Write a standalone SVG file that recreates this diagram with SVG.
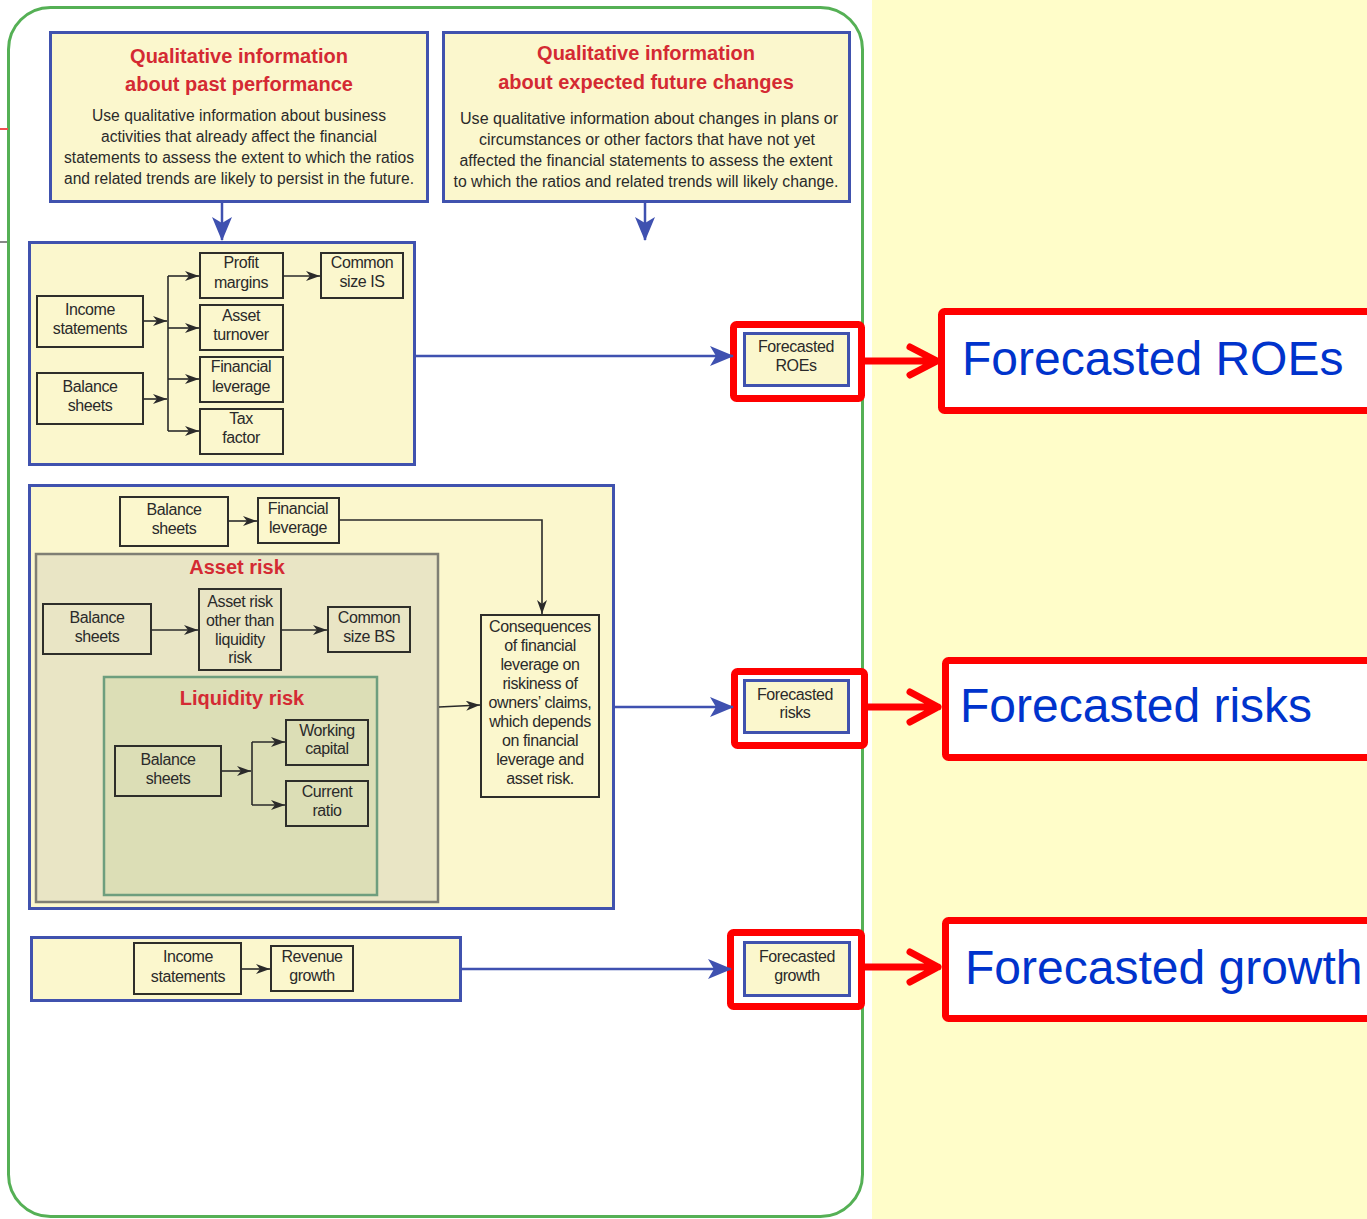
<svg xmlns="http://www.w3.org/2000/svg" width="1367" height="1219" viewBox="0 0 1367 1219">
<style>
  .cont{fill:#FBF7CD;stroke:#4052AE;stroke-width:3}
  .box{fill:none;stroke:#2E2E2A;stroke-width:2}
  .t{font-family:"Liberation Sans",Arial,sans-serif;font-size:16px;fill:#2A2A2A;text-anchor:middle;letter-spacing:-0.4px}
  .body{font-family:"Liberation Sans",Arial,sans-serif;font-size:16px;fill:#2A2A2A;text-anchor:middle}
  .title{font-family:"Liberation Sans",Arial,sans-serif;font-size:20px;font-weight:bold;fill:#D42A33;text-anchor:middle}
  .big{font-family:"Liberation Sans",Arial,sans-serif;font-size:48px;fill:#0033CC}
  .blk{fill:none;stroke:#2A2A2A;stroke-width:1.6}
  .blue{fill:none;stroke:#3F51B0;stroke-width:2.5}
  .redbox{fill:none;stroke:#FF0000;stroke-width:7}
  .bigbox{fill:#FFFFFF;stroke:#FF0000;stroke-width:7}
  .redarr{fill:none;stroke:#FF0000;stroke-width:7;stroke-linecap:round;stroke-linejoin:round}
  .fbox{fill:#FBF7CD;stroke:#4052AE;stroke-width:3}
</style>
<defs>
  <marker id="ab" viewBox="0 0 24 20" refX="23" refY="10" markerWidth="24" markerHeight="20" markerUnits="userSpaceOnUse" orient="auto">
    <path d="M0,0 L24,10 L0,20 L6,10 z" fill="#3F51B0"/>
  </marker>
  <marker id="ak" viewBox="0 0 14 10" refX="14" refY="5" markerWidth="14" markerHeight="10" markerUnits="userSpaceOnUse" orient="auto">
    <path d="M0,0 L14,5 L0,10 L4,5 z" fill="#2A2A2A"/>
  </marker>
</defs>

<!-- backgrounds -->
<rect x="0" y="0" width="1367" height="1219" fill="#FFFFFF"/>
<rect x="872" y="0" width="495" height="1219" fill="#FFFDC9"/>
<rect x="8.5" y="7.5" width="854" height="1209" rx="42" ry="42" fill="none" stroke="#55B055" stroke-width="3"/>
<line x1="0" y1="129" x2="8" y2="129" stroke="#F05050" stroke-width="2"/>
<line x1="0" y1="242" x2="7" y2="242" stroke="#888888" stroke-width="2"/>

<!-- top left info box -->
<g id="past-info">
  <rect class="cont" x="50.5" y="32.5" width="377" height="169"/>
  <text class="title" x="239" y="63">Qualitative information</text>
  <text class="title" x="239" y="91">about past performance</text>
  <text class="body" x="239" y="121" textLength="294" lengthAdjust="spacingAndGlyphs">Use qualitative information about business</text>
  <text class="body" x="239" y="142" textLength="276" lengthAdjust="spacingAndGlyphs">activities that already affect the financial</text>
  <text class="body" x="239" y="163" textLength="350" lengthAdjust="spacingAndGlyphs">statements to assess the extent to which the ratios</text>
  <text class="body" x="239" y="184" textLength="350" lengthAdjust="spacingAndGlyphs">and related trends are likely to persist in the future.</text>
</g>

<!-- top right info box -->
<g id="future-info">
  <rect class="cont" x="443.5" y="32.5" width="406" height="169"/>
  <text class="title" x="646" y="60">Qualitative information</text>
  <text class="title" x="646" y="89">about expected future changes</text>
  <text class="body" x="649" y="124" textLength="378" lengthAdjust="spacingAndGlyphs">Use qualitative information about changes in plans or</text>
  <text class="body" x="647" y="145" textLength="336" lengthAdjust="spacingAndGlyphs">circumstances or other factors that have not yet</text>
  <text class="body" x="646" y="166" textLength="373" lengthAdjust="spacingAndGlyphs">affected the financial statements to assess the extent</text>
  <text class="body" x="646" y="187" textLength="385" lengthAdjust="spacingAndGlyphs">to which the ratios and related trends will likely change.</text>
</g>

<!-- ROE section -->
<g id="roe-section">
  <rect class="cont" x="29.5" y="242.5" width="385" height="222"/>
  <g id="roe-income"><rect class="box" x="37" y="296" width="106" height="51"/><text class="t" x="90" y="315">Income</text><text class="t" x="90" y="334">statements</text></g>
  <g id="roe-balance"><rect class="box" x="37" y="373" width="106" height="51"/><text class="t" x="90" y="392">Balance</text><text class="t" x="90" y="411">sheets</text></g>
  <g id="profit-margins"><rect class="box" x="200" y="253" width="83" height="45"/><text class="t" x="241" y="268">Profit</text><text class="t" x="241" y="288">margins</text></g>
  <g id="asset-turnover"><rect class="box" x="200" y="305" width="83" height="45"/><text class="t" x="241" y="321">Asset</text><text class="t" x="241" y="340">turnover</text></g>
  <g id="roe-finlev"><rect class="box" x="200" y="357" width="83" height="45"/><text class="t" x="241" y="372">Financial</text><text class="t" x="241" y="392">leverage</text></g>
  <g id="tax-factor"><rect class="box" x="200" y="409" width="83" height="45"/><text class="t" x="241" y="424">Tax</text><text class="t" x="241" y="443">factor</text></g>
  <g id="common-size-is"><rect class="box" x="321" y="253" width="82" height="45"/><text class="t" x="362" y="268">Common</text><text class="t" x="362" y="287">size IS</text></g>
</g>

<!-- Risk section -->
<g id="risk-section">
  <rect class="cont" x="29.5" y="485.5" width="584" height="423"/>
  <g id="risk-balance"><rect class="box" x="120" y="497" width="108" height="49"/><text class="t" x="174" y="515">Balance</text><text class="t" x="174" y="534">sheets</text></g>
  <g id="risk-finlev"><rect class="box" x="258" y="498" width="81" height="45"/><text class="t" x="298" y="514">Financial</text><text class="t" x="298" y="533">leverage</text></g>
  <g id="asset-risk">
    <rect x="36" y="554" width="402" height="348" fill="#E9E5C5" stroke="#7F7F74" stroke-width="2.5"/>
    <text class="title" x="237" y="574">Asset risk</text>
    <g id="ar-balance"><rect class="box" x="43" y="604" width="108" height="50"/><text class="t" x="97" y="623">Balance</text><text class="t" x="97" y="642">sheets</text></g>
    <g id="ar-other"><rect class="box" x="199" y="589" width="82" height="81"/><text class="t" x="240" y="607">Asset risk</text><text class="t" x="240" y="626">other than</text><text class="t" x="240" y="645">liquidity</text><text class="t" x="240" y="663">risk</text></g>
    <g id="common-size-bs"><rect class="box" x="328" y="607" width="82" height="45"/><text class="t" x="369" y="623">Common</text><text class="t" x="369" y="642">size BS</text></g>
  </g>
  <g id="liquidity-risk">
    <rect x="104" y="677" width="273" height="218" fill="#DCDEB6" stroke="#6E9E7E" stroke-width="2.5"/>
    <text class="title" x="242" y="705">Liquidity risk</text>
    <g id="lr-balance"><rect class="box" x="115" y="746" width="106" height="50"/><text class="t" x="168" y="765">Balance</text><text class="t" x="168" y="784">sheets</text></g>
    <g id="working-capital"><rect class="box" x="286" y="720" width="82" height="45"/><text class="t" x="327" y="736">Working</text><text class="t" x="327" y="754">capital</text></g>
    <g id="current-ratio"><rect class="box" x="286" y="781" width="82" height="45"/><text class="t" x="327" y="797">Current</text><text class="t" x="327" y="816">ratio</text></g>
  </g>
  <g id="consequences"><rect class="box" x="481" y="615" width="118" height="182"/>
    <text class="t" x="540" y="632">Consequences</text>
    <text class="t" x="540" y="651">of financial</text>
    <text class="t" x="540" y="670">leverage on</text>
    <text class="t" x="540" y="689">riskiness  of</text>
    <text class="t" x="540" y="708">owners’ claims,</text>
    <text class="t" x="540" y="727">which depends</text>
    <text class="t" x="540" y="746">on financial</text>
    <text class="t" x="540" y="765">leverage and</text>
    <text class="t" x="540" y="784">asset risk.</text>
  </g>
</g>

<!-- Growth section -->
<g id="growth-section">
  <rect class="cont" x="31.5" y="937.5" width="429" height="63"/>
  <g id="g-income"><rect class="box" x="134" y="943" width="107" height="51"/><text class="t" x="188" y="962">Income</text><text class="t" x="188" y="982">statements</text></g>
  <g id="revenue-growth"><rect class="box" x="271" y="946" width="82" height="45"/><text class="t" x="312" y="962">Revenue</text><text class="t" x="312" y="981">growth</text></g>
</g>

<!-- Forecast boxes -->
<g id="forecast-roe">
  <rect class="redbox" x="733.5" y="324.5" width="128" height="74" rx="3"/>
  <rect class="fbox" x="744.5" y="333.5" width="104" height="52"/>
  <text class="t" x="796" y="352">Forecasted</text><text class="t" x="796" y="371">ROEs</text>
</g>
<g id="forecast-risks">
  <rect class="redbox" x="734.5" y="671.5" width="130" height="74" rx="3"/>
  <rect class="fbox" x="744.5" y="680.5" width="104" height="52"/>
  <text class="t" x="795" y="700">Forecasted</text><text class="t" x="795" y="718">risks</text>
</g>
<g id="forecast-growth">
  <rect class="redbox" x="730.5" y="932.5" width="131" height="74" rx="3"/>
  <rect class="fbox" x="744.5" y="942.5" width="105" height="53"/>
  <text class="t" x="797" y="962">Forecasted</text><text class="t" x="797" y="981">growth</text>
</g>

<!-- Big labels -->
<g id="label-roe">
  <rect class="bigbox" x="941.5" y="311.5" width="480" height="99" rx="3"/>
  <text class="big" x="962" y="375">Forecasted ROEs</text>
</g>
<g id="label-risks">
  <rect class="bigbox" x="945.5" y="660.5" width="480" height="97" rx="3"/>
  <text class="big" x="960" y="722">Forecasted risks</text>
</g>
<g id="label-growth">
  <rect class="bigbox" x="945.5" y="920.5" width="480" height="98" rx="3"/>
  <text class="big" x="965" y="984">Forecasted growth</text>
</g>

<!-- connectors -->
<g id="connectors">
  <!-- blue -->
  <line class="blue" x1="222" y1="202" x2="222" y2="240" marker-end="url(#ab)"/>
  <line class="blue" x1="645" y1="202" x2="645" y2="240" marker-end="url(#ab)"/>
  <line class="blue" x1="415" y1="356" x2="733" y2="356" marker-end="url(#ab)"/>
  <line class="blue" x1="614" y1="707" x2="733" y2="707" marker-end="url(#ab)"/>
  <line class="blue" x1="461" y1="969" x2="731" y2="969" marker-end="url(#ab)"/>
  <!-- ROE black -->
  <line class="blk" x1="143" y1="321" x2="167" y2="321" marker-end="url(#ak)"/>
  <line class="blk" x1="143" y1="399" x2="167" y2="399" marker-end="url(#ak)"/>
  <line class="blk" x1="168" y1="276" x2="168" y2="431"/>
  <line class="blk" x1="168" y1="276" x2="199" y2="276" marker-end="url(#ak)"/>
  <line class="blk" x1="168" y1="328" x2="199" y2="328" marker-end="url(#ak)"/>
  <line class="blk" x1="168" y1="379" x2="199" y2="379" marker-end="url(#ak)"/>
  <line class="blk" x1="168" y1="431" x2="199" y2="431" marker-end="url(#ak)"/>
  <line class="blk" x1="283" y1="276" x2="320" y2="276" marker-end="url(#ak)"/>
  <!-- risk black -->
  <line class="blk" x1="228" y1="521" x2="257" y2="521" marker-end="url(#ak)"/>
  <polyline class="blk" points="339,520 542,520 542,614" marker-end="url(#ak)"/>
  <line class="blk" x1="151" y1="630" x2="198" y2="630" marker-end="url(#ak)"/>
  <line class="blk" x1="281" y1="630" x2="327" y2="630" marker-end="url(#ak)"/>
  <line class="blk" x1="439" y1="707" x2="480" y2="705" marker-end="url(#ak)"/>
  <line class="blk" x1="221" y1="771" x2="251" y2="771" marker-end="url(#ak)"/>
  <line class="blk" x1="252" y1="742" x2="252" y2="805"/>
  <line class="blk" x1="252" y1="742" x2="285" y2="742" marker-end="url(#ak)"/>
  <line class="blk" x1="252" y1="805" x2="285" y2="805" marker-end="url(#ak)"/>
  <!-- growth black -->
  <line class="blk" x1="241" y1="969" x2="270" y2="969" marker-end="url(#ak)"/>
  <!-- red arrows -->
  <path class="redarr" d="M865,361 L936,361 M910,347 L937,361 L910,375"/>
  <path class="redarr" d="M868,707 L938,707 M910,692 L938,707 L910,722"/>
  <path class="redarr" d="M865,967 L938,967 M910,952 L938,967 L910,982"/>
</g>
</svg>
